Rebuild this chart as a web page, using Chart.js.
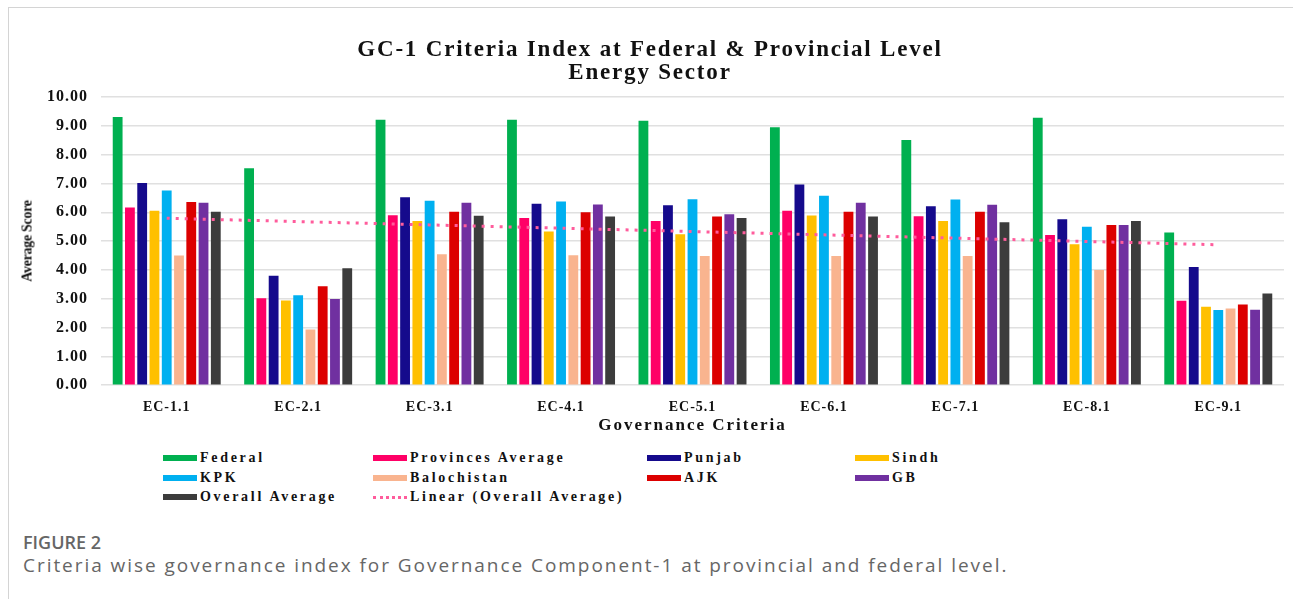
<!DOCTYPE html>
<html>
<head>
<meta charset="utf-8">
<script src="https://cdn.jsdelivr.net/npm/chart.js@4.4.1/dist/chart.umd.min.js"></script>
<style>
  html, body { margin: 0; padding: 0; background: #fff; }
  body { position: relative; width: 1293px; height: 599px; overflow: hidden; }
  #frame { position: absolute; left: 8px; top: 7px; width: 1290px; height: 600px;
    border-top: 1px solid #d4d4d4; border-left: 1px solid #d4d4d4; }
  #wrap { position: absolute; left: 0; top: 0; width: 1293px; height: 440px; }
  .serif { font-family: "Liberation Serif", "Times New Roman", serif; font-weight: bold; color: #111; white-space: nowrap; }
  #title { position: absolute; left: 0; width: 1300px; top: 37px; text-align: center;
    font-size: 23px; line-height: 23px; letter-spacing: 1.8px; }
  #xtitle { position: absolute; left: 101px; width: 1183px; top: 415px; text-align: center;
    font-size: 17px; line-height: 20px; letter-spacing: 2px; }
  #ytitle { position: absolute; left: 27px; top: 241px; font-size: 14px; line-height: 15px; letter-spacing: -0.3px;
    transform: translate(-50%, -50%) rotate(-90deg); }
  #legend { position: absolute; left: 0; top: 0; font-size: 14px; letter-spacing: 2.7px; }
  .item { position: absolute; display: flex; align-items: center; height: 16px; }
  .sw { width: 34px; height: 6px; margin-right: 3px; }
  .dots { width: 34px; height: 0; border-top: 3px dotted #ff5c9c; margin-right: 3px; }
  #fig { position: absolute; left: 23px; top: 530px; font: 600 18px/24px "Open Sans", sans-serif; color: #666; }
  #cap { position: absolute; left: 23px; top: 553px; font: 19px/24px "Open Sans", sans-serif; color: #666; letter-spacing: 1.95px; }
</style>
</head>
<body>
<div id="frame"></div>
<div id="wrap"><canvas id="chart"></canvas></div>
<div id="title" class="serif">GC-1 Criteria Index at Federal &amp; Provincial Level<br>Energy Sector</div>
<div id="ytitle" class="serif">Average Score</div>
<div id="xtitle" class="serif">Governance Criteria</div>
<div id="legend" class="serif"></div>
<div id="fig">FIGURE 2</div>
<div id="cap">Criteria wise governance index for Governance Component-1 at provincial and federal level.</div>
<script>
// average scores per criterion
const categories = ['EC-1.1', 'EC-2.1', 'EC-3.1', 'EC-4.1', 'EC-5.1', 'EC-6.1', 'EC-7.1', 'EC-8.1', 'EC-9.1'];
const federal          = [9.31, 7.53, 9.21, 9.21, 9.18, 8.95, 8.51, 9.28, 5.30];
const provincesAverage = [6.17, 3.02, 5.90, 5.80, 5.70, 6.05, 5.86, 5.21, 2.93];
const punjab           = [7.02, 3.80, 6.52, 6.30, 6.24, 6.96, 6.21, 5.76, 4.10];
const sindh            = [6.05, 2.94, 5.70, 5.33, 5.24, 5.89, 5.70, 4.89, 2.72];
const kpk              = [6.76, 3.12, 6.40, 6.37, 6.45, 6.57, 6.44, 5.50, 2.61];
const balochistan      = [4.50, 1.93, 4.54, 4.51, 4.48, 4.48, 4.48, 4.00, 2.66];
const ajk              = [6.36, 3.43, 6.02, 6.00, 5.85, 6.02, 6.02, 5.56, 2.80];
const gb               = [6.33, 2.99, 6.33, 6.27, 5.93, 6.33, 6.26, 5.56, 2.62];
const overallAverage   = [6.02, 4.06, 5.88, 5.85, 5.80, 5.85, 5.65, 5.70, 3.18];
const yTicks = [0, 1, 2, 3, 4, 5, 6, 7, 8, 9, 10];

// least squares trend of the overall average (Excel "Linear" trendline)
function linearTrend(vals) {
  const n = vals.length;
  let sx = 0, sy = 0, sxy = 0, sxx = 0;
  vals.forEach((v, i) => { const x = i + 1; sx += x; sy += v; sxy += x * v; sxx += x * x; });
  const b = (n * sxy - sx * sy) / (n * sxx - sx * sx);
  const a = (sy - b * sx) / n;
  return vals.map((v, i) => a + b * (i + 1));
}

const series = [
  ['Federal', federal, '#00b050'],
  ['Provinces Average', provincesAverage, '#ff0066'],
  ['Punjab', punjab, '#150a8c'],
  ['Sindh', sindh, '#ffc000'],
  ['KPK', kpk, '#00b0f0'],
  ['Balochistan', balochistan, '#f9b48f'],
  ['AJK', ajk, '#dc0000'],
  ['GB', gb, '#7030a0'],
  ['Overall Average', overallAverage, '#3c3c3c']
];

const datasets = series.map(s => ({
  type: 'bar',
  label: s[0],
  data: s[1],
  backgroundColor: s[2],
  categoryPercentage: 0.84,
  barPercentage: 0.8,
  order: 1
}));
datasets.push({
  type: 'line',
  label: 'Linear (Overall Average)',
  data: linearTrend(overallAverage),
  borderColor: '#ff5c9c',
  borderWidth: 3,
  borderDash: [3, 6],
  pointRadius: 0,
  fill: false,
  order: 0
});

const serif = '"Liberation Serif", "Times New Roman", serif';

// wide tick lettering
const spacing = {
  id: 'spacing',
  beforeDraw(chart) { chart.ctx.letterSpacing = '1px'; }
};

new Chart(document.getElementById('chart'), {
  data: { labels: categories, datasets: datasets },
  plugins: [spacing],
  options: {
    responsive: true,
    maintainAspectRatio: false,
    animation: false,
    layout: { padding: { left: 39, right: 9, top: 97, bottom: 10 } },
    plugins: {
      legend: { display: false },
      tooltip: { enabled: false },
      title: { display: false }
    },
    scales: {
      x: {
        grid: { display: false, drawTicks: false },
        border: { display: false },
        ticks: { color: '#111', font: { family: serif, size: 14, weight: 'bold' }, padding: 14 }
      },
      y: {
        min: 0, max: 10,
        afterBuildTicks: axis => { axis.ticks = yTicks.map(v => ({ value: v })); },
        grid: { color: '#e0e0e0', lineWidth: 1.5, drawTicks: false },
        border: { display: false },
        ticks: {
          color: '#111', padding: 13,
          font: { family: serif, size: 16, weight: 'bold' },
          callback: v => v.toFixed(2)
        }
      }
    }
  }
});

// legend laid out in four columns, row by row
const legendCols = [163, 373, 647, 855];
const legendRows = [458, 477.5, 497];
const legend = document.getElementById('legend');
datasets.forEach((d, i) => {
  const item = document.createElement('div');
  item.className = 'item';
  item.style.left = legendCols[i % 4] + 'px';
  item.style.top = (legendRows[Math.floor(i / 4)] - 8) + 'px';
  const sw = document.createElement('span');
  if (d.type === 'line') { sw.className = 'dots'; }
  else { sw.className = 'sw'; sw.style.background = d.backgroundColor; }
  const txt = document.createElement('span');
  txt.textContent = d.label;
  item.appendChild(sw);
  item.appendChild(txt);
  legend.appendChild(item);
});
</script>
</body>
</html>
